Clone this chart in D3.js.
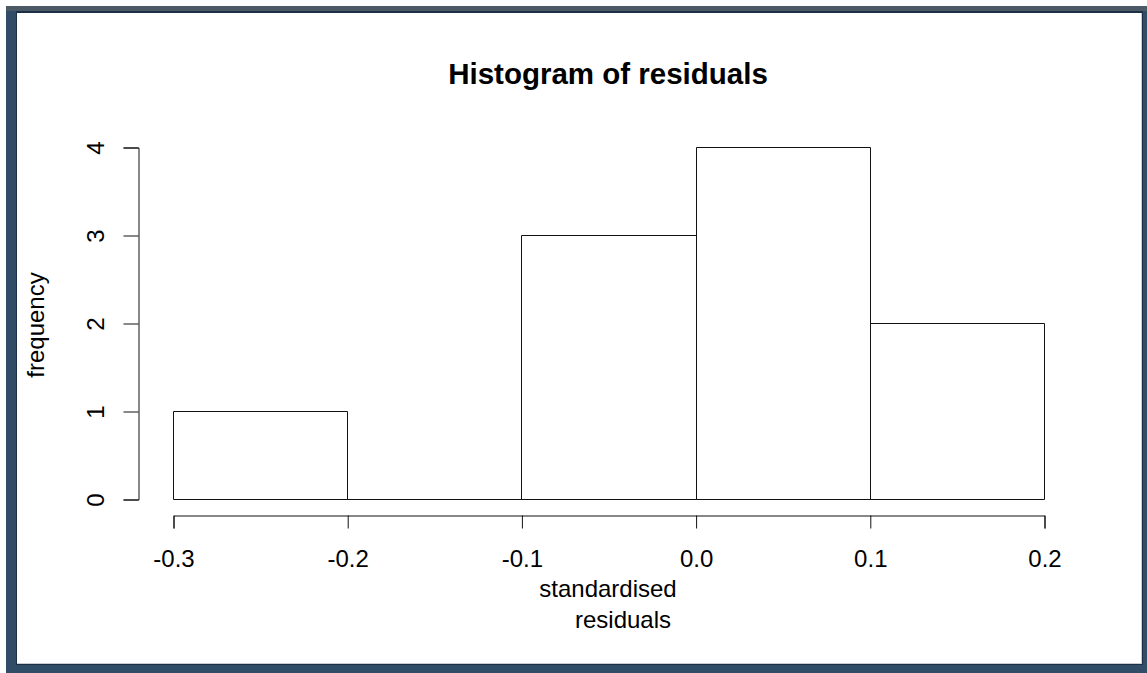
<!DOCTYPE html>
<html>
<head>
<meta charset="utf-8">
<script src="https://cdn.jsdelivr.net/npm/d3@7/dist/d3.min.js"></script>
<style>
  html, body { margin: 0; padding: 0; background: #ffffff; }
  svg { display: block; }
  text { font-family: "Liberation Sans", Arial, sans-serif; fill: #000; }
</style>
</head>
<body>
<svg id="chart" width="1147" height="673"></svg>
<script>
// ---- data ----
const binStarts = [-0.3, -0.2, -0.1, 0.0, 0.1];
const binEnds   = [-0.2, -0.1, 0.0, 0.1, 0.2];
const counts    = [1, 0, 3, 4, 2];
const xTicks    = [-0.3, -0.2, -0.1, 0.0, 0.1, 0.2];
const xTickLabels = ["-0.3", "-0.2", "-0.1", "0.0", "0.1", "0.2"];
const yTicks    = [0, 1, 2, 3, 4];
const titleText = "Histogram of residuals";
const xLabelLines = ["standardised", "residuals"];
const yLabelText = "frequency";

// ---- frame (screenshot window border) ----
const svg = d3.select("#chart");
svg.append("rect").attr("x", 6).attr("y", 6).attr("width", 1141).attr("height", 667).attr("fill", "#314c67");
svg.append("rect").attr("x", 6).attr("y", 6).attr("width", 1141).attr("height", 5).attr("fill", "#4b5a66");
svg.append("rect").attr("x", 16).attr("y", 11).attr("width", 1127).attr("height", 654).attr("fill", "#1c3045");
svg.append("rect").attr("x", 17).attr("y", 13).attr("width", 1125).attr("height", 651).attr("fill", "#c9cdd1");
svg.append("rect").attr("x", 17).attr("y", 13).attr("width", 1124).attr("height", 650).attr("fill", "#ffffff");

// ---- scales ----
const x = d3.scaleLinear().domain([-0.3, 0.2]).range([173, 1044]);
const y = d3.scaleLinear().domain([0, 4]).range([499, 147]);

const g = svg.append("g");

// bars (drawn as closed paths so zero-height bins still show as a line)
g.selectAll("path.bar")
  .data(counts)
  .join("path")
  .attr("class", "bar")
  .attr("d", (d, i) => {
    const x0 = Math.round(x(binStarts[i])) + 0.5;
    const x1 = Math.round(x(binEnds[i])) + 0.5;
    const y0 = Math.round(y(0)) + 0.5;
    const y1 = Math.round(y(d)) + 0.5;
    return `M${x0},${y0}L${x0},${y1}L${x1},${y1}L${x1},${y0}Z`;
  })
  .attr("fill", "none")
  .attr("stroke", "#111")
  .attr("stroke-width", 1);

// x axis
const xAxis = d3.axisBottom(x)
  .tickValues(xTicks)
  .tickFormat((d, i) => xTickLabels[i])
  .tickSizeOuter(0)
  .tickSize(13)
  .tickPadding(21);
const gx = g.append("g").attr("transform", "translate(0.5,515.5)").call(xAxis);
gx.selectAll("path, line").attr("stroke", "#111");
gx.selectAll("text").attr("font-size", 24).attr("fill", "#000")
  .attr("font-family", '"Liberation Sans", Arial, sans-serif');

// y axis
const yAxis = d3.axisLeft(y)
  .tickValues(yTicks)
  .tickFormat(d3.format("d"))
  .tickSizeOuter(0)
  .tickSize(15);
const gy = g.append("g").attr("transform", "translate(138.5,0.5)").call(yAxis);
gy.selectAll("path, line").attr("stroke", "#111");
gy.selectAll("text")
  .attr("font-size", 24).attr("fill", "#000")
  .attr("font-family", '"Liberation Sans", Arial, sans-serif')
  .attr("x", null).attr("dy", null)
  .attr("text-anchor", "middle")
  .attr("transform", "translate(-35,0) rotate(-90)");

// title
svg.append("text")
  .attr("x", 608).attr("y", 84)
  .attr("text-anchor", "middle")
  .attr("font-size", 29.5).attr("font-weight", "bold")
  .text(titleText);

// x label
svg.append("text").attr("x", 608).attr("y", 597).attr("text-anchor", "middle")
  .attr("font-size", 24).text(xLabelLines[0]);
svg.append("text").attr("x", 623).attr("y", 628).attr("text-anchor", "middle")
  .attr("font-size", 24).text(xLabelLines[1]);

// y label
svg.append("text")
  .attr("transform", "translate(44,325) rotate(-90)")
  .attr("text-anchor", "middle")
  .attr("font-size", 24)
  .text(yLabelText);
</script>
</body>
</html>
